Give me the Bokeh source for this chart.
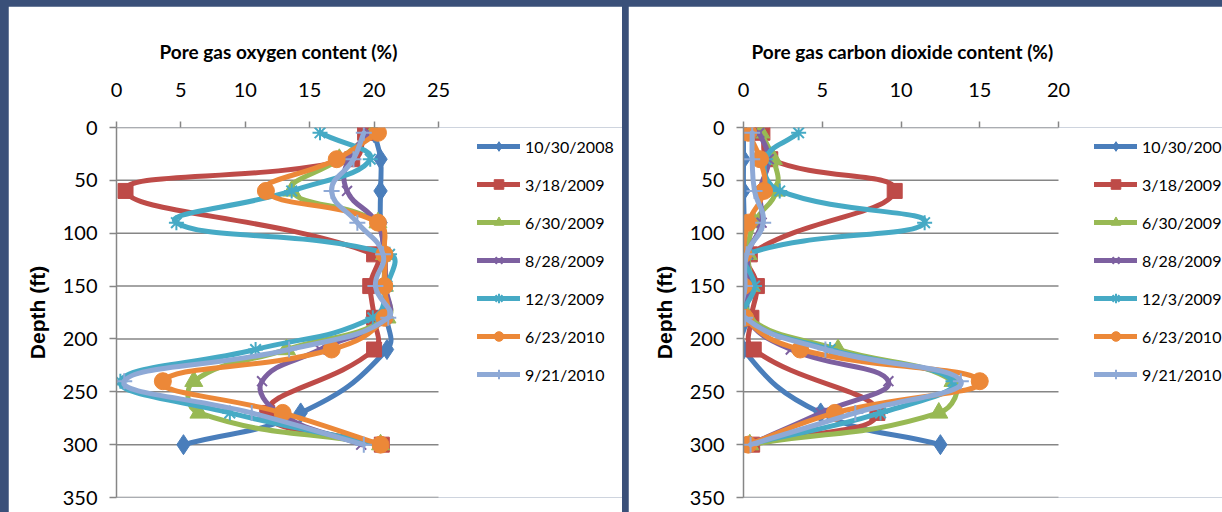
import math
from bokeh.plotting import figure
from bokeh.models import Range1d, Legend, LegendItem
from bokeh.layouts import row
from bokeh.embed import file_html
from bokeh.resources import INLINE

# ---------------- data ----------------
depth_ft = [5, 30, 60, 90, 120, 150, 180, 210, 240, 270, 300]
dates = ["10/30/2008", "3/18/2009", "6/30/2009", "8/28/2009", "12/3/2009", "6/23/2010", "9/21/2010"]
nan = float("nan")

# Pore gas oxygen content (%)
o2_2008_10_30 = [20.0, 20.5, 20.5, 20.5, 20.8, 20.8, 21.0, 21.0, nan, 14.3, 5.2]
o2_2009_03_18 = [19.3, 18.3, 0.7, nan, 20.0, 19.7, 20.0, 20.0, nan, 11.7, 20.6]
o2_2009_06_30 = [19.9, 17.3, 13.6, 20.3, 20.8, 20.8, 21.0, 13.2, 6.0, 6.4, 20.5]
o2_2009_08_28 = [19.6, 18.0, 17.9, 20.2, 20.8, 20.9, 21.0, 15.8, 11.3, 12.6, 19.0]
o2_2009_12_03 = [15.8, 19.7, 13.6, 4.65, 21.2, 21.0, 19.9, 10.8, 0.3, 8.8, 20.4]
o2_2010_06_23 = [20.3, 17.1, 11.6, 20.3, 20.8, 20.8, 20.8, 16.7, 3.6, 12.9, 20.5]
o2_2010_09_21 = [19.2, 18.4, 16.7, 18.7, 20.7, 20.1, 21.1, 13.4, 0.6, 10.5, 19.2]

# Pore gas carbon dioxide content (%)
co2_2008_10_30 = [0.0, 0.0, 0.0, 0.05, 0.1, 0.2, 0.2, 0.0, nan, 4.9, 12.5]
co2_2009_03_18 = [1.2, 1.7, 9.6, nan, 0.4, 0.85, 0.5, 0.65, nan, 8.5, 0.55]
co2_2009_06_30 = [1.1, 1.9, 2.1, 0.7, 0.3, 0.5, 0.3, 6.0, 13.3, 12.4, 0.4]
co2_2009_08_28 = [1.0, 1.6, 1.05, 1.15, 0.3, 0.4, 0.2, 3.0, 9.2, 4.9, 0.4]
co2_2009_12_03 = [3.5, 1.4, 2.3, 11.5, 0.2, 0.7, 0.1, 5.5, 13.3, 8.7, 0.2]
co2_2010_06_23 = [0.3, 1.05, 1.3, 0.3, 0.0, 0.0, 0.1, 3.6, 15.0, 5.8, 0.3]
co2_2010_09_21 = [0.55, 0.55, 0.7, 1.25, 0.2, 0.1, 0.1, 5.2, 13.8, 7.1, 0.45]

o2_series = [o2_2008_10_30, o2_2009_03_18, o2_2009_06_30, o2_2009_08_28,
             o2_2009_12_03, o2_2010_06_23, o2_2010_09_21]
co2_series = [co2_2008_10_30, co2_2009_03_18, co2_2009_06_30, co2_2009_08_28,
              co2_2009_12_03, co2_2010_06_23, co2_2010_09_21]

o2_ticks = [0, 5, 10, 15, 20, 25]
co2_ticks = [0, 5, 10, 15, 20]
depth_ticks = [0, 50, 100, 150, 200, 250, 300, 350]

# ---------------- style ----------------
BG = "#3a5079"
GRID = "#868686"
colors = ["#4A7EBB", "#BE4B48", "#98B954", "#7D60A0", "#46AAC5", "#EC8838", "#8EA9D6"]
markers = ["diamond", "square", "triangle", "x", "asterisk", "circle", "cross"]
msizes = [20, 15, 18, 14, 15, 17, 16]
mlw = [1, 1, 1, 2, 2, 1, 2]
FONT = "Lato, Roboto, sans-serif"
BOLDROT = "'Liberation Sans', Arial, sans-serif"
H = 506
FRAME_TOP = 121
FRAME_H = 370
TENSION = 0.45


def bezier_segments(xs, ys, sx, sy):
    """Smoothed-line control points (distance weighted, computed in pixel space)."""
    pts = [(x, y) for x, y in zip(xs, ys) if not math.isnan(x)]
    n = len(pts)
    seg = dict(x0=[], y0=[], x1=[], y1=[], cx0=[], cy0=[], cx1=[], cy1=[])

    def ctrl(i):
        # returns (incoming control, outgoing control) for point i
        p1 = pts[i]
        p0 = pts[i - 1] if i > 0 else pts[i]
        p2 = pts[i + 1] if i + 1 < n else pts[i]
        d01 = math.hypot((p1[0] - p0[0]) * sx, (p1[1] - p0[1]) * sy)
        d12 = math.hypot((p2[0] - p1[0]) * sx, (p2[1] - p1[1]) * sy)
        tot = d01 + d12
        if tot == 0:
            return p1, p1
        fa = TENSION * d01 / tot
        fb = TENSION * d12 / tot
        dx, dy = p2[0] - p0[0], p2[1] - p0[1]
        return (p1[0] - fa * dx, p1[1] - fa * dy), (p1[0] + fb * dx, p1[1] + fb * dy)

    ctrls = [ctrl(i) for i in range(n)]
    for i in range(n - 1):
        a, b = pts[i], pts[i + 1]
        c0 = ctrls[i][1]
        c1 = ctrls[i + 1][0]
        seg["x0"].append(a[0]); seg["y0"].append(a[1])
        seg["x1"].append(b[0]); seg["y1"].append(b[1])
        seg["cx0"].append(c0[0]); seg["cy0"].append(c0[1])
        seg["cx1"].append(c1[0]); seg["cy1"].append(c1[1])
    return seg


def make_chart(title, series, xticks, width, left, plot_w, legend_dx, title_offset):
    xmax = xticks[-1]
    frame_w = width - left
    # the frame also holds the legend area; the data area spans plot_w pixels
    x_end = xmax * frame_w / plot_w
    p = figure(width=width, height=H,
               x_range=Range1d(0, x_end), y_range=Range1d(350, 0),
               x_axis_location="above", output_backend="svg", toolbar_location=None,
               min_border_left=left, min_border_right=0,
               min_border_top=FRAME_TOP, min_border_bottom=H - FRAME_TOP - FRAME_H)
    p.title.text = title
    p.title.align = "left"
    p.title.offset = title_offset
    p.title.text_font = FONT
    p.title.text_font_size = "19px"
    p.title.text_font_style = "bold"
    p.title.text_color = "black"
    p.title.standoff = 34
    p.background_fill_color = "white"
    p.border_fill_color = "white"
    p.outline_line_color = None

    xa = p.xaxis[0]
    xa.ticker = xticks
    xa.axis_line_color = None
    xa.major_tick_line_color = GRID
    xa.major_tick_line_width = 1.5
    xa.major_tick_out = 6
    xa.major_tick_in = 0
    xa.minor_tick_line_color = None
    xa.major_label_text_font = FONT
    xa.major_label_text_font_size = "20px"
    xa.major_label_text_color = "black"
    xa.major_label_standoff = 25

    ya = p.yaxis[0]
    ya.ticker = depth_ticks
    ya.axis_label = "Depth (ft)"
    ya.axis_label_text_font = BOLDROT
    ya.axis_label_text_font_size = "21px"
    ya.axis_label_text_font_style = "bold"
    ya.axis_label_text_color = "black"
    ya.axis_label_standoff = 11
    ya.axis_line_color = GRID
    ya.axis_line_width = 1.5
    ya.major_tick_line_color = GRID
    ya.major_tick_line_width = 1.5
    ya.major_tick_out = 7
    ya.major_tick_in = 0
    ya.minor_tick_line_color = None
    ya.major_label_text_font = FONT
    ya.major_label_text_font_size = "20px"
    ya.major_label_text_color = "black"
    ya.major_label_standoff = 12

    p.xgrid.visible = False
    p.ygrid.visible = False
    # horizontal gridlines limited to the data area (0 .. last x tick)
    p.segment(x0=[xticks[0]] * len(depth_ticks), y0=depth_ticks,
              x1=[xmax] * len(depth_ticks), y1=depth_ticks,
              line_color=GRID, line_width=1.5)

    sx = plot_w / xmax
    sy = FRAME_H / 350.0
    items = []
    for k, vals in enumerate(series):
        seg = bezier_segments(vals, depth_ft, sx, sy)
        lr = p.bezier(x0=seg["x0"], y0=seg["y0"], x1=seg["x1"], y1=seg["y1"],
                      cx0=seg["cx0"], cy0=seg["cy0"], cx1=seg["cx1"], cy1=seg["cy1"],
                      line_color=colors[k], line_width=5, line_cap="round")
        mx = [v for v in vals if not math.isnan(v)]
        my = [d for v, d in zip(vals, depth_ft) if not math.isnan(v)]
        sr = p.scatter(mx, my, marker=markers[k], size=msizes[k],
                       fill_color=colors[k], line_color=colors[k], line_width=mlw[k])
        items.append(LegendItem(label=dates[k], renderers=[lr, sr]))

    leg_h = 7 * 24 + 6 * 14
    legend = Legend(items=items, location=(legend_dx, FRAME_H - 7 - leg_h),
                    glyph_width=43, glyph_height=24, label_height=24,
                    spacing=14, padding=0, margin=0, label_standoff=5,
                    label_text_font=FONT, label_text_font_size="16px",
                    label_text_color="black",
                    border_line_color=None, background_fill_alpha=0)
    p.add_layout(legend)
    return p


p1 = make_chart("Pore gas oxygen content (%)", o2_series, o2_ticks,
                width=614, left=108, plot_w=322, legend_dx=361, title_offset=43)
p2 = make_chart("Pore gas carbon dioxide content (%)", co2_series, co2_ticks,
                width=594, left=115, plot_w=315, legend_dx=351, title_offset=8)
p1.margin = (6, 0, 0, 8)
p2.margin = (6, 0, 0, 6)

layout = row(p1, p2, spacing=0, styles={"background-color": BG})

open("out.html", "w").write(file_html(layout, INLINE))
